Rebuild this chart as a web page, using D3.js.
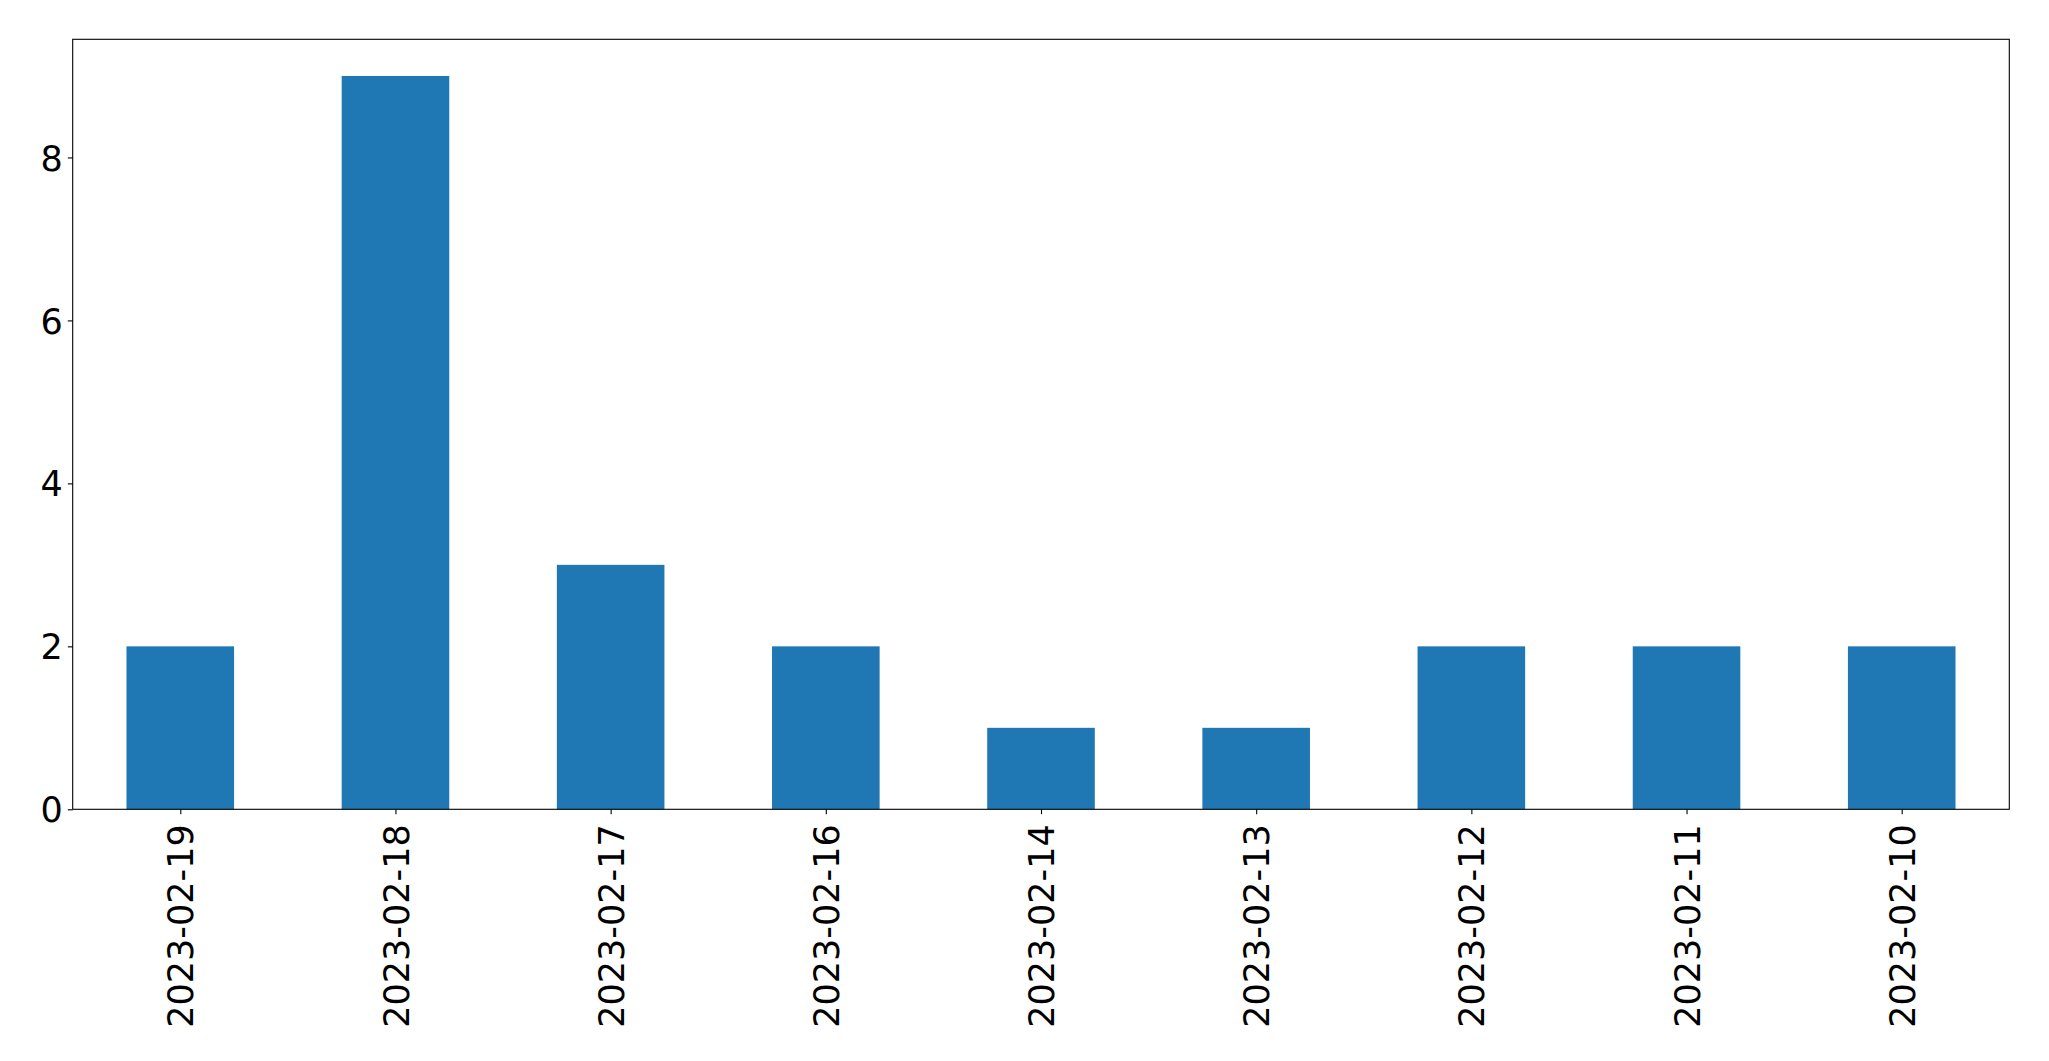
<!DOCTYPE html>
<html>
<head>
<meta charset="utf-8">
<script src="https://cdn.jsdelivr.net/npm/d3@7"></script>
<style>
  html, body { margin: 0; padding: 0; background: #fff; }
  svg { display: block; }
  text { font-family: "DejaVu Sans", sans-serif; fill: #000; }
</style>
</head>
<body>
<script>
const categories = ["2023-02-19", "2023-02-18", "2023-02-17", "2023-02-16", "2023-02-14", "2023-02-13", "2023-02-12", "2023-02-11", "2023-02-10"];
const values = [2, 9, 3, 2, 1, 1, 2, 2, 2];
const yTicks = [0, 2, 4, 6, 8];

const W = 2049, H = 1061;
const mLeft = 72.7, mRight = 2009.3, mTop = 39.3, mBottom = 809.3;
const fontPx = 35;
const barColor = "#1f77b4";

const svg = d3.select("body").append("svg").attr("width", W).attr("height", H);

const x = d3.scaleLinear().domain([-0.5, categories.length - 0.5]).range([mLeft, mRight]);
const y = d3.scaleLinear().domain([0, d3.max(values) * 1.05]).range([mBottom, mTop]);
const barW = 0.5;

svg.append("g").selectAll("rect").data(values).join("rect")
  .attr("x", (d, i) => x(i - barW / 2))
  .attr("width", (d, i) => x(i + barW / 2) - x(i - barW / 2))
  .attr("y", d => y(d))
  .attr("height", d => y(0) - y(d))
  .attr("fill", barColor);

// Y axis
const yAxis = d3.axisLeft(y).tickValues(yTicks).tickSize(4.9).tickPadding(4.9).tickFormat(d3.format("d"));
const gy = svg.append("g").attr("transform", `translate(${mLeft},0)`).call(yAxis);
gy.select(".domain").remove();
gy.selectAll("line").attr("stroke", "#000").attr("stroke-width", 1.1);
gy.selectAll("text").style("font-size", fontPx + "px").attr("dy", "0.36em");

// X axis
const xAxis = d3.axisBottom(x).tickValues(d3.range(categories.length)).tickSize(4.9).tickPadding(0).tickFormat(i => categories[i]);
const gx = svg.append("g").attr("transform", `translate(0,${mBottom})`).call(xAxis);
gx.select(".domain").remove();
gx.selectAll("line").attr("stroke", "#000").attr("stroke-width", 1.1);
gx.selectAll("text")
  .style("font-size", fontPx + "px")
  .attr("text-anchor", "end")
  .attr("transform", "rotate(-90)")
  .attr("x", -15)
  .attr("y", 0)
  .attr("dy", "0.36em");

// Frame
svg.append("rect")
  .attr("x", mLeft).attr("y", mTop)
  .attr("width", mRight - mLeft).attr("height", mBottom - mTop)
  .attr("fill", "none").attr("stroke", "#000").attr("stroke-width", 1.1);
</script>
</body>
</html>
